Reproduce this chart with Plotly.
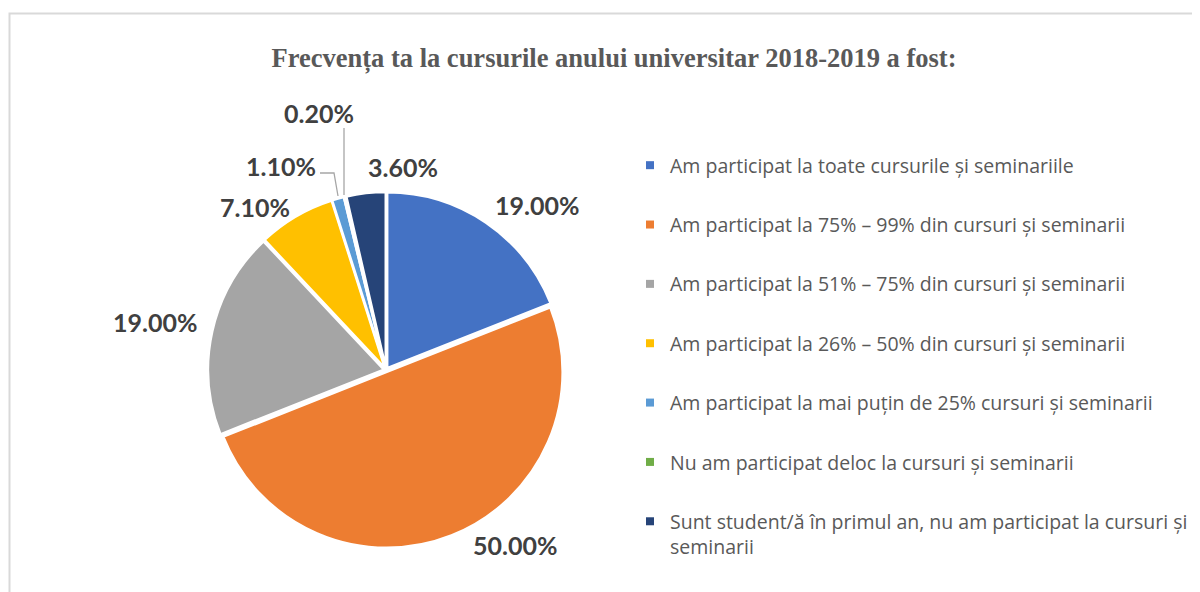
import plotly.graph_objects as go

labels = [
    "Am participat la toate cursurile și seminariile",
    "Am participat la 75% – 99% din cursuri și seminarii",
    "Am participat la 51% – 75% din cursuri și seminarii",
    "Am participat la 26% – 50% din cursuri și seminarii",
    "Am participat la mai puțin de 25% cursuri și seminarii",
    "Nu am participat deloc la cursuri și seminarii",
    "Sunt student/ă în primul an, nu am participat la cursuri și<br>seminarii",
]
values = [19.0, 50.0, 19.0, 7.1, 1.1, 0.2, 3.6]
colors = ["#4472C4", "#ED7D31", "#A5A5A5", "#FFC000", "#5B9BD5", "#70AD47", "#264478"]

# where each percentage label sits (screen pixels from top-left)
label_pos = [(537, 205), (515, 545), (155, 322), (255, 207), (281, 166), (319, 113), (403, 167)]

W, H = 1200, 592
OFF = 8  # the page body margin shifts the figure by 8px


def px(x):
    return (x - OFF) / W


def py(y):
    return 1 - (y - OFF) / H


fig = go.Figure()
fig.add_trace(go.Pie(
    labels=labels,
    values=values,
    sort=False,
    direction="clockwise",
    rotation=0,
    marker=dict(colors=colors, line=dict(color="white", width=2.5)),
    pull=0.012,
    textinfo="none",
    hoverinfo="label+percent",
    showlegend=False,
    domain=dict(x=[px(208), px(564)], y=[py(548), py(192)]),
))

# legend entries (one group per entry so the spacing can be opened up)
for i, (lab, col) in enumerate(zip(labels, colors)):
    fig.add_trace(go.Scatter(
        x=[None], y=[None], mode="markers", name=lab,
        marker=dict(symbol="square", size=8, color=col),
        legendgroup=f"g{i}", showlegend=True,
    ))

for (lx, ly), v in zip(label_pos, values):
    fig.add_annotation(
        x=px(lx), y=py(ly), xref="paper", yref="paper",
        text=f"<b>{v:.2f}%</b>", showarrow=False,
        xanchor="center", yanchor="middle",
        font=dict(family="Lato", size=25, color="#404040"),
    )

# leader lines for the two thin slices
lc = "#A6A6A6"
fig.add_shape(type="path", xref="paper", yref="paper",
              path=f"M {px(320)} {py(173)} L {px(334)} {py(173)} L {px(338)} {py(196)}",
              line=dict(color=lc, width=1.3))
fig.add_shape(type="line", xref="paper", yref="paper",
              x0=px(344), x1=px(344), y0=py(128), y1=py(195),
              line=dict(color=lc, width=1.3))

# chart frame
fig.add_shape(type="rect", xref="paper", yref="paper",
              x0=px(9.5), y0=-0.05, x1=1.05, y1=py(13.5),
              line=dict(color="#D9D9D9", width=2))

fig.update_layout(
    width=W, height=H,
    margin=dict(l=0, r=0, t=0, b=0),
    paper_bgcolor="white", plot_bgcolor="white",
    title=dict(
        text="<b>Frecvența ta la cursurile anului universitar 2018-2019 a fost:</b>",
        x=px(614), xanchor="center", y=py(58), yanchor="middle",
        font=dict(family="Liberation Serif", size=26.5, color="#595959"),
    ),
    xaxis=dict(visible=False),
    yaxis=dict(visible=False),
    legend=dict(
        x=px(630), xanchor="left", y=py(146), yanchor="top",
        font=dict(family="Open Sans", size=19.5, color="#595959"),
        tracegroupgap=31, valign="top",
        bgcolor="rgba(0,0,0,0)",
    ),
)

fig.write_html("out.html")
